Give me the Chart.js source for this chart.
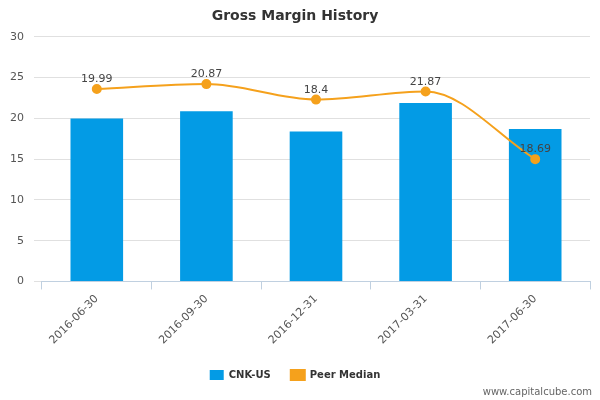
<!DOCTYPE html>
<html><head><meta charset="utf-8">
<script src="https://cdn.jsdelivr.net/npm/chart.js@4"></script>
<style>body{margin:0;background:#fff}#w{width:600px;height:400px;position:relative}</style>
</head><body><div id="w"><canvas id="c"></canvas></div>
<script>
const categories=["2016-06-30","2016-09-30","2016-12-31","2017-03-31","2017-06-30"];
const cnkValues=[19.99,20.87,18.4,21.87,18.69];
const peerValues=[23.6,24.2,22.3,23.3,15.0];
const yTicks=[0,5,10,15,20,25,30];
const labelPlugin={id:'lbl',afterDatasetsDraw(ch){const ctx=ch.ctx;const m=ch.getDatasetMeta(0);ctx.save();ctx.font='11px "DejaVu Sans"';ctx.fillStyle='#444';ctx.textAlign='center';ctx.textBaseline='bottom';m.data.forEach((b,i)=>ctx.fillText(String(cnkValues[i]),b.x,b.y-4));ctx.font='10px "DejaVu Sans"';ctx.fillStyle='#666';ctx.textAlign='right';ctx.fillText('www.capitalcube.com',592,397);ctx.restore();}};
new Chart(document.getElementById('c'),{
data:{labels:categories,datasets:[
{type:'line',label:'Peer Median',data:peerValues,borderColor:'#f5a11c',backgroundColor:'#f5a11c',borderWidth:2,pointRadius:4,tension:0.4,cubicInterpolationMode:'monotone',order:0},
{type:'bar',label:'CNK-US',data:cnkValues,backgroundColor:'#039be5',barPercentage:0.48,categoryPercentage:1,order:1}]},
options:{responsive:true,maintainAspectRatio:false,animation:false,
layout:{padding:{left:0,right:10,top:0,bottom:10}},
plugins:{title:{display:true,text:'Gross Margin History',font:{family:'"DejaVu Sans"',size:14,weight:'bold'},color:'#333',padding:{top:8,bottom:12}},
legend:{position:'bottom',reverse:true,labels:{font:{family:'"DejaVu Sans"',size:10,weight:'bold'},color:'#333',boxWidth:14,boxHeight:10,usePointStyle:false,padding:20}},tooltip:{enabled:false}},
scales:{x:{grid:{display:true,drawOnChartArea:false,tickLength:8,color:'#c0d0e0'},border:{color:'#c0d0e0'},ticks:{maxRotation:45,minRotation:45,font:{family:'"DejaVu Sans"',size:11},color:'#555'}},
y:{min:0,max:30,afterBuildTicks(a){a.ticks=yTicks.map(v=>({value:v}));},grid:{color:'#e0e0e0'},border:{display:false},ticks:{font:{family:'"DejaVu Sans"',size:11},color:'#555',padding:10}}}},
plugins:[labelPlugin]});
</script></body></html>
